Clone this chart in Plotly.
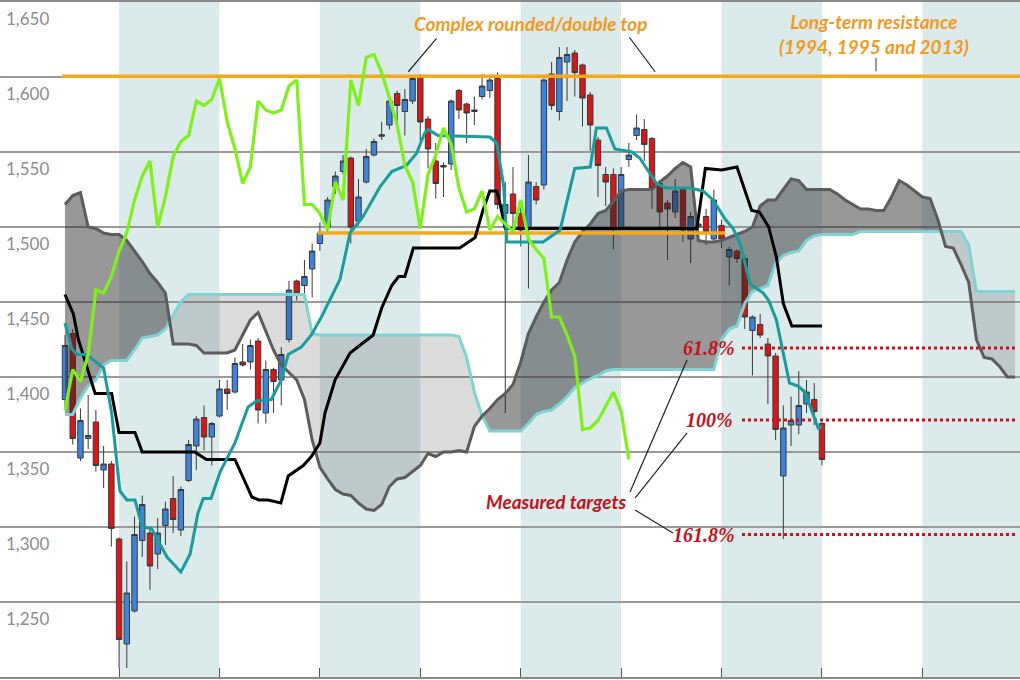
import plotly.graph_objects as go

# ---------------- data ----------------
days = list(range(99))
opens = [1385, 1429, 1346, 1359, 1370, 1338, 1342, 1292, 1222, 1244,
         1291, 1296, 1282, 1301, 1319, 1298, 1331, 1354, 1373, 1360,
         1374, 1392, 1390, 1410, 1410, 1424, 1376, 1405, 1398, 1425,
         1464, 1461, 1472, 1489, 1500, 1527, 1537, 1546, 1504, 1530,
         1548, 1560.5, 1568, 1589, 1577, 1584, 1601, 1572, 1544, 1541,
         1542, 1591, 1582, 1577, 1587, 1591, 1599, 1509, 1522, 1509,
         1500, 1527, 1528, 1602, 1577, 1610, 1616, 1608, 1588, 1558,
         1535, 1535, 1500, 1545, 1561, 1565, 1559, 1529, 1516, 1510,
         1526, 1492, 1500, 1507, 1492, 1501, 1480, 1484, 1479, 1431,
         1435, 1422, 1414, 1334, 1368, 1368, 1382, 1385, 1369]
highs = [1428, 1432, 1379, 1388, 1378, 1354, 1344, 1293, 1277, 1307,
         1321, 1300, 1306, 1317, 1334, 1327, 1358, 1374, 1381, 1370,
         1398, 1398, 1413, 1422, 1425, 1426, 1411, 1406, 1420, 1464,
         1465, 1478, 1489, 1503, 1520, 1537, 1548, 1547, 1532, 1552,
         1559, 1570, 1587, 1591, 1592, 1600, 1602, 1574, 1556, 1543,
         1585, 1592, 1583, 1587, 1602, 1601, 1603, 1530, 1540, 1515,
         1548, 1530, 1599, 1610, 1620, 1620, 1618, 1609, 1590, 1560,
         1540, 1539, 1540, 1556, 1575, 1572, 1560, 1530, 1518, 1532,
         1527, 1510, 1508, 1512, 1525, 1505, 1487, 1485, 1481, 1441,
         1442, 1426, 1416, 1381, 1387, 1404, 1398, 1396, 1370]
lows = [1378, 1355, 1344, 1352, 1337, 1326, 1287, 1206, 1206, 1243,
        1280, 1258, 1272, 1288, 1296, 1294, 1330, 1338, 1351, 1341,
        1373, 1378, 1389, 1407, 1405, 1369, 1369, 1376, 1381, 1423,
        1451, 1452, 1453, 1484, 1497, 1522, 1535, 1489, 1501, 1529,
        1547, 1558, 1565, 1570, 1561, 1582, 1557, 1539, 1519, 1520,
        1538, 1572, 1556, 1568, 1585, 1586, 1512, 1376, 1500, 1487,
        1459, 1515, 1525, 1578, 1571, 1584, 1587, 1567, 1551, 1520,
        1514, 1485, 1498, 1540, 1558, 1544, 1512, 1499, 1478, 1506,
        1490, 1476, 1494, 1488, 1490, 1486, 1461, 1476, 1432, 1401,
        1426, 1382, 1358, 1292, 1354, 1362, 1376, 1368, 1341]
closes = [1421, 1359, 1371, 1361, 1341, 1342, 1299, 1225, 1256, 1295,
          1315, 1274, 1296, 1312, 1305, 1325, 1355, 1372, 1360, 1369,
          1392, 1389, 1409, 1408, 1421, 1378, 1405, 1397, 1415, 1458,
          1456, 1467, 1484, 1496, 1518, 1534, 1544, 1500, 1520, 1547,
          1557, 1561.5, 1584, 1581, 1585, 1599, 1570, 1552, 1529, 1540,
          1584, 1578, 1576, 1578, 1594, 1598, 1515, 1515, 1509, 1498,
          1530, 1518, 1598, 1581, 1613, 1615, 1603, 1586, 1568, 1541,
          1530, 1499, 1535, 1548, 1566, 1555, 1526, 1510, 1512, 1524,
          1498, 1507, 1502, 1497, 1518, 1492, 1485, 1479, 1440, 1440,
          1428, 1414, 1365, 1366, 1371, 1381, 1390, 1377, 1345]

# Tenkan-sen (conversion line), vertices
tenkan_x = [0, 1.08, 1.73, 2.8, 3.9, 6.04, 6.99, 9.06, 10, 16.8, 18.3, 22, 24.2, 25.1,
            26.3, 27.95, 28.9, 30.85, 31.9, 33, 33.66, 34.96, 36.9, 39.9, 41, 42.3,
            43.2, 44, 45.1, 51.1, 53.1, 54.1, 55, 55.9, 56.3, 57, 81.8, 82.9, 85, 87,
            88.9, 89.9, 91.1, 92.1, 93, 94.1, 98]
tenkan_y = [1455, 1442, 1425, 1407, 1389, 1389, 1363, 1363, 1350, 1350, 1345, 1345, 1320, 1318,
            1318, 1316, 1334, 1341, 1347, 1356, 1376, 1398, 1416, 1428, 1446, 1461,
            1467, 1467, 1486, 1486, 1493, 1511, 1524, 1524, 1516, 1499, 1499, 1539, 1538, 1540,
            1511, 1510, 1500, 1480, 1449, 1434, 1434]

# Kijun-sen (base line), vertices
kijun_x = [0, 0.86, 1.5, 2.8, 5, 6.04, 7.1, 8, 9.06, 10, 11.2, 13.2, 15, 16.2, 17.2, 17.9,
           18.9, 20.1, 22, 23.7, 24.8, 26.7, 28, 28.9, 30.6, 31.9, 33.2, 35.6, 36.9, 38.6,
           40.8, 42.3, 44.2, 45.5, 46.6, 47.0, 48.3, 55, 55.9, 56.8, 57.2, 61.9, 64.1, 66,
           68, 68.8, 70.1, 71.2, 73.4, 74.4, 76.6, 77.9, 80.9, 82.6, 83.9, 85.5, 86.5, 87.4,
           88.7, 90.4, 91.1, 92.1, 93.8, 94.9, 95.8, 96.9, 97.5, 98]
kijun_y = [1436, 1419, 1415, 1415, 1406, 1376, 1324, 1318, 1318, 1300, 1299, 1280, 1270, 1282,
           1309, 1319, 1319, 1337, 1356, 1380, 1384, 1385, 1398, 1415, 1420, 1428, 1440, 1465,
           1496, 1507, 1527, 1537, 1541, 1549, 1563, 1565, 1561, 1560, 1556, 1527, 1490, 1490,
           1498, 1539, 1540, 1566, 1566, 1552, 1550, 1546, 1529, 1526, 1526, 1524, 1518, 1505,
           1499, 1489, 1462, 1456, 1451, 1438, 1396, 1394, 1390, 1374, 1366, 1367]

# Chikou span (lagging line), one value per period from day 0
chikou_x = list(range(74))
chikou_y = [1378, 1405, 1397, 1415, 1458, 1456, 1467, 1484, 1496, 1518,
            1534, 1544, 1500, 1520, 1547, 1557, 1561, 1584, 1581, 1585,
            1599, 1570, 1552, 1529, 1540, 1584, 1578, 1576, 1578, 1594,
            1598, 1515, 1515, 1509, 1498, 1530, 1518, 1598, 1581, 1613,
            1615, 1603, 1586, 1568, 1541, 1530, 1499, 1535, 1548, 1566,
            1555, 1526, 1510, 1512, 1524, 1498, 1507, 1502, 1497, 1518,
            1492, 1485, 1479, 1440, 1440, 1428, 1414, 1365, 1366, 1371,
            1381, 1390, 1377, 1345]

# Senkou spans (cloud edges), one value per period, days 0..123
cloud_x = list(range(124))
senkou_a = [1515, 1521, 1523, 1500, 1499, 1496, 1495, 1495, 1491, 1484,
            1477, 1469, 1463, 1456, 1422, 1422, 1422, 1421, 1416, 1416,
            1416, 1416, 1418, 1428, 1438, 1443, 1430, 1418, 1408, 1403,
            1398, 1385, 1358, 1340, 1332, 1325, 1322, 1321, 1316, 1312,
            1311, 1315, 1327, 1332, 1333, 1337, 1341, 1349, 1347, 1350,
            1350, 1351, 1350, 1367, 1374, 1379, 1385, 1389, 1395, 1410,
            1429, 1440, 1450, 1458, 1463, 1478, 1490, 1497, 1502, 1509,
            1511, 1517, 1524, 1525, 1525, 1525, 1525, 1530, 1534, 1539,
            1543, 1540, 1491, 1490, 1490, 1491, 1493, 1495, 1497, 1500,
            1514, 1518, 1518, 1525, 1532, 1531, 1525, 1525, 1525, 1525,
            1522, 1518, 1515, 1512, 1512, 1511, 1511, 1520, 1531, 1528,
            1524, 1520, 1519, 1505, 1487, 1486, 1475, 1463, 1425, 1413,
            1412, 1407, 1400, 1400]
senkou_b = [1375, 1375, 1386, 1394, 1398, 1408, 1411, 1411, 1411, 1418,
            1426, 1427, 1428, 1432, 1441, 1450, 1455, 1455, 1455, 1455,
            1455, 1455, 1455, 1455, 1455, 1455, 1455, 1455, 1455, 1455,
            1455, 1455, 1429, 1428, 1428, 1428, 1428, 1428, 1428, 1428,
            1428, 1428, 1428, 1428, 1428, 1428, 1428, 1428, 1428, 1428,
            1428, 1427, 1413, 1390, 1374, 1364, 1364, 1364, 1364, 1364,
            1369, 1375, 1377, 1378, 1382, 1387, 1393, 1396, 1399, 1401,
            1404, 1405, 1405, 1405, 1405, 1405, 1405, 1405, 1405, 1405,
            1405, 1405, 1405, 1405, 1405, 1425, 1432, 1434, 1449, 1457,
            1459, 1461, 1476, 1481, 1483, 1484, 1491, 1494, 1495, 1495,
            1495, 1495, 1495, 1497, 1497, 1497, 1497, 1497, 1497, 1497,
            1497, 1497, 1497, 1497, 1497, 1497, 1497, 1488, 1457, 1457,
            1457, 1457, 1457, 1457]

# Reference levels
resistance_top = 1600.5
resistance_mid = 1496
target_levels = [1419.3, 1371.3, 1295]
target_labels = ["61.8%", "100%", "161.8%"]
y_ticks = [1250, 1300, 1350, 1400, 1450, 1500, 1550, 1600, 1650]
y_tick_text = ["1,250", "1,300", "1,350", "1,400", "1,450", "1,500", "1,550", "1,600", "1,650"]
band_starts = [7, 33, 59, 85, 111]
band_len = 13
x_ticks = [7, 20, 33, 46, 59, 72, 85, 98, 111]

# ---------------- style ----------------
BAND = "#dbeaeb"
ORANGE = "#f5a81c"
ORANGE_TXT = "#f39a1e"
RED_TXT = "#c4121c"
XMIN, XMAX = -8.415, 123.64

fig = go.Figure()

# candles
fig.add_trace(go.Candlestick(
    x=days, open=opens, high=highs, low=lows, close=closes,
    increasing=dict(fillcolor="#3d83dc", line=dict(color="#3a3a3a", width=1)),
    decreasing=dict(fillcolor="#d81818", line=dict(color="#3a3a3a", width=1)),
    whiskerwidth=0, hoverinfo="skip", showlegend=False))


# cloud fill polygons split at crossings
def cloud_regions(xs, a, b):
    regions = []
    cx, ca, cb = [xs[0]], [a[0]], [b[0]]
    sign = 1 if a[0] >= b[0] else -1
    for i in range(1, len(xs)):
        d0 = a[i - 1] - b[i - 1]
        d1 = a[i] - b[i]
        s1 = sign if d1 == 0 else (1 if d1 > 0 else -1)
        if s1 != sign and d0 != d1:
            t = d0 / (d0 - d1)
            xc = xs[i - 1] + t * (xs[i] - xs[i - 1])
            yc = a[i - 1] + t * (a[i] - a[i - 1])
            cx.append(xc); ca.append(yc); cb.append(yc)
            regions.append((sign, cx, ca, cb))
            cx, ca, cb = [xc], [yc], [yc]
            sign = s1
        cx.append(xs[i]); ca.append(a[i]); cb.append(b[i])
    regions.append((sign, cx, ca, cb))
    return regions


for sgn, rx, ra, rb in cloud_regions(cloud_x, senkou_a, senkou_b):
    fig.add_trace(go.Scatter(
        x=rx + rx[::-1], y=ra + rb[::-1], mode="lines", fill="toself",
        fillcolor="rgba(40,40,40,0.48)" if sgn > 0 else "rgba(40,40,40,0.17)",
        line=dict(width=0), hoverinfo="skip", showlegend=False))

fig.add_trace(go.Scatter(x=cloud_x, y=senkou_b, mode="lines",
                         line=dict(color="#7fd3d3", width=3), hoverinfo="skip", showlegend=False))
fig.add_trace(go.Scatter(x=cloud_x, y=senkou_a, mode="lines",
                         line=dict(color="#5c5c5c", width=3), hoverinfo="skip", showlegend=False))

# resistance lines
fig.add_trace(go.Scatter(x=[-0.4, XMAX], y=[resistance_top] * 2, mode="lines",
                         line=dict(color=ORANGE, width=3.5), hoverinfo="skip", showlegend=False))
fig.add_trace(go.Scatter(x=[32.7, 85.5], y=[resistance_mid] * 2, mode="lines",
                         line=dict(color=ORANGE, width=3.5), hoverinfo="skip", showlegend=False))

# measured target dotted lines
for lvl in target_levels:
    fig.add_trace(go.Scatter(x=[87.65, 123.0], y=[lvl, lvl], mode="lines",
                             line=dict(color="#cc1020", width=3, dash="dot"),
                             hoverinfo="skip", showlegend=False))

# ichimoku lines
fig.add_trace(go.Scatter(x=tenkan_x, y=tenkan_y, mode="lines",
                         line=dict(color="#000000", width=3), hoverinfo="skip", showlegend=False))
fig.add_trace(go.Scatter(x=kijun_x, y=kijun_y, mode="lines",
                         line=dict(color="#1a9c9c", width=3), hoverinfo="skip", showlegend=False))
fig.add_trace(go.Scatter(x=chikou_x, y=chikou_y, mode="lines",
                         line=dict(color="#7ff01c", width=3.2), hoverinfo="skip", showlegend=False))

# background bands
shapes = []
for s in band_starts:
    shapes.append(dict(type="rect", xref="x", yref="paper", x0=s, x1=min(s + band_len, XMAX),
                       y0=0, y1=1, fillcolor=BAND, line=dict(width=0), layer="below"))

# leader lines
leaders = [
    ((48.1, 1625.8), (44.45, 1603.5), "#222222"),
    ((73.06, 1626.5), (76.4, 1603.5), "#222222"),
    ((105.0, 1612.7), (105.0, 1603.8), "#555555"),
    ((73.15, 1323.3), (80.53, 1411.3), "#222222"),
    ((73.8, 1319.3), (80.53, 1362.7), "#222222"),
    ((73.8, 1311.3), (78.7, 1296.0), "#222222"),
]
for (x0, y0), (x1, y1), c in leaders:
    shapes.append(dict(type="line", xref="x", yref="y", x0=x0, y0=y0, x1=x1, y1=y1,
                       line=dict(color=c, width=1.2), layer="above"))

ann_font = dict(family="Lato, 'Open Sans', sans-serif", size=19, weight="bold", style="italic")
annotations = [
    dict(x=60.3, y=1636, text="Complex rounded/double top", showarrow=False,
         font=dict(**ann_font, color=ORANGE_TXT), xanchor="center", yanchor="middle"),
    dict(x=104.8, y=1628.7, text="Long-term resistance<br>(1994, 1995 and 2013)", showarrow=False,
         font=dict(**ann_font, color=ORANGE_TXT), xanchor="center", yanchor="middle"),
    dict(x=72.9, y=1316.7, text="Measured targets", showarrow=False,
         font=dict(**ann_font, color=RED_TXT), xanchor="right", yanchor="middle"),
]
label_x = [87.0, 86.74, 87.0]
for lx, lvl, txt in zip(label_x, target_levels, target_labels):
    annotations.append(dict(x=lx, y=lvl, text=txt, showarrow=False, xanchor="right", yanchor="middle",
                            font=dict(family="'Liberation Serif', serif", size=20, weight="bold",
                                      style="italic", color=RED_TXT)))

fig.update_layout(
    width=1020, height=680,
    margin=dict(l=0, r=0, t=2, b=3),
    paper_bgcolor="white", plot_bgcolor="white",
    showlegend=False, boxgap=0.3, boxgroupgap=0,
    shapes=shapes, annotations=annotations,
    xaxis=dict(range=[XMIN, XMAX], rangeslider=dict(visible=False), showgrid=False,
               zeroline=False, showline=True, linecolor="#8a8a8a", linewidth=1.5, mirror=True,
               tickvals=x_ticks, ticks="inside", ticklen=9, tickcolor="#555555", tickwidth=1,
               showticklabels=False),
    yaxis=dict(range=[1200, 1650], tickvals=y_ticks, ticktext=y_tick_text,
               showgrid=True, gridcolor="#9a9a9a", gridwidth=1.5, zeroline=False,
               ticks="", ticklabelposition="inside", ticklabelshift=17, ticklabelstandoff=3,
               tickfont=dict(family="Lato, 'Open Sans', sans-serif", size=17, color="#8c8c8c")),
)

fig.write_html("out.html", config={"displayModeBar": False},
               post_script="document.body.style.margin='0px';"
                           "document.body.style.overflow='hidden';")
